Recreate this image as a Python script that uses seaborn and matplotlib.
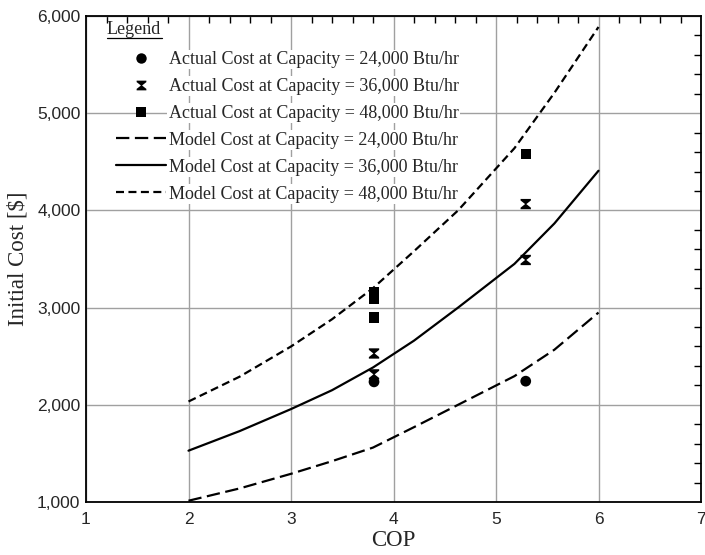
import matplotlib
matplotlib.use("Agg")
import matplotlib.pyplot as plt
import seaborn as sns
import numpy as np
import pandas as pd
from matplotlib.lines import Line2D
from matplotlib.path import Path
from matplotlib.ticker import MultipleLocator, FuncFormatter

# ---- data ----
model_cop = [2.0, 2.5, 3.0, 3.4, 3.8, 4.2, 4.63, 5.18, 5.57, 6.0]
model_24k = [1013, 1140, 1290, 1420, 1560, 1770, 2000, 2295, 2567, 2949]
model_36k = [1528, 1730, 1956, 2150, 2384, 2660, 3000, 3450, 3866, 4408]
model_48k = [2034, 2290, 2600, 2880, 3200, 3580, 4000, 4640, 5210, 5887]

actual_24k_cop = [3.81, 5.29]
actual_24k_cost = [2236, 2243]
actual_36k_cop = [3.81, 3.81, 5.29, 5.29]
actual_36k_cost = [2313, 2528, 3490, 4065]
actual_48k_cop = [3.81, 3.81, 3.81, 5.29]
actual_48k_cost = [2897, 3085, 3154, 4577]

labels = [
    "Actual Cost at Capacity = 24,000 Btu/hr",
    "Actual Cost at Capacity = 36,000 Btu/hr",
    "Actual Cost at Capacity = 48,000 Btu/hr",
    "Model Cost at Capacity = 24,000 Btu/hr",
    "Model Cost at Capacity = 36,000 Btu/hr",
    "Model Cost at Capacity = 48,000 Btu/hr",
]

sns.set_style("white")
plt.rcParams["font.family"] = ["Liberation Sans", "DejaVu Sans"]

fig = plt.figure(figsize=(7.05, 5.55), dpi=100)
ax = fig.add_axes([86 / 705, 53 / 555, 615 / 705, 486 / 555])

hg_verts = [(-1, 1), (1, 1), (1, 0.7), (0.12, 0), (1, -0.7), (1, -1),
            (-1, -1), (-1, -0.7), (-0.12, 0), (-1, 0.7), (-1, 1)]
hg_codes = [Path.MOVETO] + [Path.LINETO] * 9 + [Path.CLOSEPOLY]
hourglass = Path(hg_verts, hg_codes)

dash24 = (0, (6, 2.5))
dash48 = (0, (3.6, 2))
lw = 1.6

sns.lineplot(x=model_cop, y=model_24k, ax=ax, color="black", lw=lw, linestyle=dash24)
sns.lineplot(x=model_cop, y=model_36k, ax=ax, color="black", lw=lw, linestyle="-")
sns.lineplot(x=model_cop, y=model_48k, ax=ax, color="black", lw=lw, linestyle=dash48)

sns.scatterplot(x=actual_24k_cop, y=actual_24k_cost, ax=ax, marker="o", s=60,
                color="black", edgecolor="none", zorder=5)
sns.scatterplot(x=actual_36k_cop, y=actual_36k_cost, ax=ax, marker=hourglass, s=55,
                color="black", edgecolor="none", zorder=5)
sns.scatterplot(x=actual_48k_cop, y=actual_48k_cost, ax=ax, marker="s", s=55,
                color="black", edgecolor="none", zorder=5)

ax.set_xlim(1, 7)
ax.set_ylim(1000, 6000)
ax.xaxis.set_major_locator(MultipleLocator(1))
ax.xaxis.set_minor_locator(MultipleLocator(0.2))
ax.yaxis.set_major_locator(MultipleLocator(1000))
ax.yaxis.set_minor_locator(MultipleLocator(200))
ax.yaxis.set_major_formatter(FuncFormatter(lambda v, p: f"{int(v):,}"))

ax.grid(True, which="major", color="#a0a0a0", lw=1.0)
ax.set_axisbelow(True)
ax.tick_params(which="both", direction="in", top=True, right=True, color="black")
ax.tick_params(which="major", length=0, labelsize=12.5)
ax.tick_params(axis="x", which="major", pad=7)
ax.tick_params(axis="y", which="major", pad=4)
ax.tick_params(which="minor", length=5, width=1)
for s in ax.spines.values():
    s.set_color("black")
    s.set_linewidth(1.3)

serif = ["Liberation Serif", "DejaVu Serif"]
ax.set_xlabel("COP", family=serif, fontsize=16.5, labelpad=2)
ax.set_ylabel("Initial Cost [$]", family=serif, fontsize=16.5, labelpad=6)

handles = [
    Line2D([], [], marker="o", ls="none", color="black", markersize=7.5, markeredgewidth=0),
    Line2D([], [], marker=hourglass, ls="none", color="black", markersize=7, markeredgewidth=0),
    Line2D([], [], marker="s", ls="none", color="black", markersize=7, markeredgewidth=0),
    Line2D([], [], color="black", lw=lw, linestyle=dash24),
    Line2D([], [], color="black", lw=lw, linestyle="-"),
    Line2D([], [], color="black", lw=lw, linestyle=dash48),
]
leg = ax.legend(handles, labels, loc="upper left", bbox_to_anchor=(0.048, 0.928),
                frameon=False, prop={"family": serif, "size": 13},
                handlelength=2.8, handletextpad=0.15, labelspacing=0.55,
                borderaxespad=0, borderpad=0)
for t in leg.get_texts():
    t.set_bbox(dict(facecolor="white", edgecolor="none", pad=1))

fig.text(107 / 705, 1 - 30 / 555, "Legend", family=serif, fontsize=13,
         va="center", ha="left")
fig.add_artist(Line2D([107 / 705, 162 / 705], [1 - 38 / 555, 1 - 38 / 555],
                      color="black", lw=0.9, transform=fig.transFigure))

fig.savefig("out.png", dpi=100)
